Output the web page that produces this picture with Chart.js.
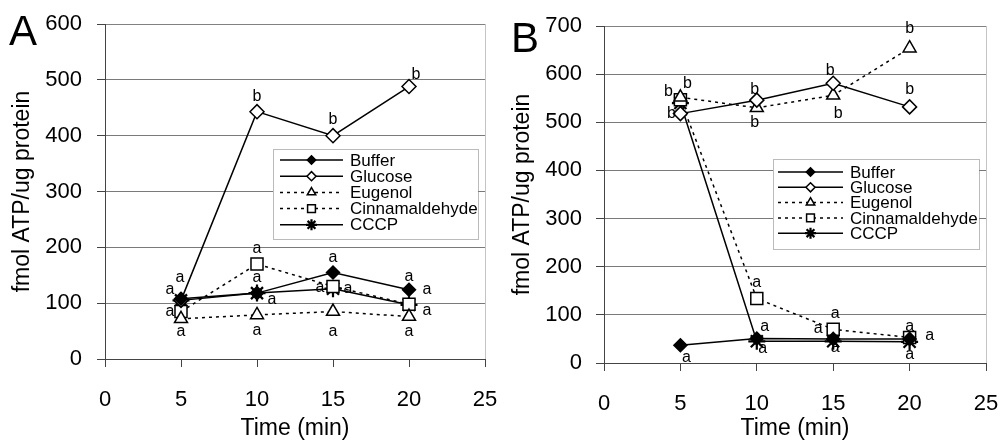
<!DOCTYPE html>
<html>
<head>
<meta charset="utf-8">
<script src="https://cdn.jsdelivr.net/npm/chart.js"></script>
<style>
  body { margin: 0; background: #fff; }
  #wrap { position: relative; width: 1002px; height: 446px; }
  canvas { position: absolute; top: 0; }
</style>
</head>
<body>
<div id="wrap">
  <canvas id="chartA" width="500" height="446" style="left:0px"></canvas>
  <canvas id="chartB" width="502" height="446" style="left:500px"></canvas>
</div>
<script>
"use strict"

// data
const times = [5, 10, 15, 20];
const seriesNames = ["Buffer", "Glucose", "Eugenol", "Cinnamaldehyde", "CCCP"];
const xTicks = [0, 5, 10, 15, 20, 25];

const bufferA = [108, 118, 155, 124];
const glucoseA = [105, 443, 400, 488];
const eugenolA = [72, 79, 85, 76];
const cinnamA = [85, 170, 130, 98];
const cccpA = [105, 118, 126, 97];

const bufferB = [37, 51, 50, 50];
const glucoseB = [518, 546, 581, 532];
const eugenolB = [552, 530, 556, 654];
const cinnamB = [547, 134, 70, 53];
const cccpB = [540, 45, 45, 44];

// significance letters: [series index, time index, letter]
const lettersA = [
  [0, 0, "a"], [0, 0, "a"], [3, 0, "a"], [2, 0, "a"],
  [3, 1, "a"], [4, 1, "a"], [4, 1, "a"], [1, 1, "b"], [2, 1, "a"],
  [0, 2, "a"], [3, 2, "a"], [4, 2, "a"], [1, 2, "b"], [2, 2, "a"],
  [0, 3, "a"], [0, 3, "a"], [3, 3, "a"], [1, 3, "b"], [2, 3, "a"]
];
const lettersB = [
  [3, 0, "b"], [2, 0, "b"], [1, 0, "b"], [0, 0, "a"],
  [1, 1, "b"], [2, 1, "b"], [3, 1, "a"], [0, 1, "a"], [4, 1, "a"],
  [1, 2, "b"], [2, 2, "b"], [3, 2, "a"], [3, 2, "a"], [4, 2, "a"],
  [2, 3, "b"], [1, 3, "b"], [3, 3, "a"], [3, 3, "a"], [4, 3, "a"]
];

// where each letter sits relative to its point (px)
const offsetsA = [
  [-11, -9], [-1, -21], [-11, 0], [0, 13],
  [0, -15], [0, -16], [15, 6], [0, -15], [0, 16],
  [0, -15], [-13, 1], [15, 0], [0, -16], [0, 20],
  [0, -13], [18, 0], [18, 6], [7, -12], [0, 15]
];
const offsetsB = [
  [-12, -8], [7, -14], [-9, 0], [6, 12],
  [-2, -11], [-2, 15], [0, -16], [8, -12], [6, 7],
  [-3, -13], [5, 18], [2, -16], [-15, -1], [2, 6],
  [0, -20], [0, -17], [0, -11], [20, -2], [0, 13]
];

const FONT = "'Liberation Sans', Arial, sans-serif";
Chart.defaults.font.family = FONT;
Chart.defaults.color = "#000";

const looks = [
  { pointStyle: "rectRot", radius: 6.5, fill: "#000", dash: [], bw: 1.5 },
  { pointStyle: "rectRot", radius: 7, fill: "#fff", dash: [], bw: 1.5 },
  { pointStyle: "triangle", radius: 7.5, fill: "#fff", dash: [3, 4], bw: 1.5 },
  { pointStyle: "rect", radius: 8.5, fill: "#fff", dash: [3, 4], bw: 1.5 },
  { pointStyle: "star", radius: 8.5, fill: "#000", dash: [], bw: 2.2 }
];

function makeDatasets(valueLists) {
  return valueLists.map((vals, i) => ({
    label: seriesNames[i],
    data: vals.map((v, j) => ({ x: times[j], y: v })),
    borderColor: "#000",
    borderWidth: 1.5,
    borderDash: looks[i].dash,
    pointStyle: looks[i].pointStyle,
    pointRadius: looks[i].radius,
    pointBackgroundColor: looks[i].fill,
    pointBorderColor: "#000",
    pointBorderWidth: looks[i].bw,
    fill: false,
    tension: 0
  }));
}

// box around the plot area (dotted, grey) - left/bottom axis lines go on top
const frame = {
  id: "frame",
  beforeDatasetsDraw(chart) {
    const a = chart.chartArea;
    const ctx = chart.ctx;
    ctx.save();
    ctx.strokeStyle = "#888";
    ctx.lineWidth = 1;
    ctx.setLineDash([1, 1]);
    ctx.strokeRect(a.left + 0.5, a.top + 0.5, a.right - a.left, a.bottom - a.top);
    ctx.restore();
  }
};

function letterPlugin(marks, offsets) {
  return {
    id: "letters",
    afterDatasetsDraw(chart) {
      const ctx = chart.ctx;
      ctx.save();
      ctx.font = "16px " + FONT;
      ctx.fillStyle = "#000";
      ctx.textAlign = "center";
      ctx.textBaseline = "middle";
      marks.forEach((m, i) => {
        const pt = chart.getDatasetMeta(m[0]).data[m[1]];
        ctx.fillText(m[2], pt.x + offsets[i][0], pt.y + offsets[i][1]);
      });
      ctx.restore();
    }
  };
}

function drawMarker(ctx, look, x, y, r) {
  ctx.fillStyle = look.fill;
  ctx.strokeStyle = "#000";
  ctx.lineWidth = look.bw;
  ctx.setLineDash([]);
  Chart.helpers.drawPoint(ctx, { pointStyle: look.pointStyle, radius: r, borderWidth: look.bw, rotation: 0 }, x, y);
}

// legend: line sample with marker in the middle, in a dotted box
function legendPlugin(box) {
  return {
    id: "boxLegend",
    afterDraw(chart) {
      const ctx = chart.ctx;
      ctx.save();
      ctx.fillStyle = "#fff";
      ctx.fillRect(box.x, box.y, box.w, box.h);
      ctx.strokeStyle = "#777";
      ctx.lineWidth = 1;
      ctx.setLineDash([1, 1]);
      ctx.strokeRect(box.x + 0.5, box.y + 0.5, box.w, box.h);
      chart.data.datasets.forEach((ds, i) => {
        const y = box.y + box.first + i * box.step;
        ctx.strokeStyle = "#000";
        ctx.lineWidth = 1.5;
        ctx.setLineDash(looks[i].dash);
        ctx.beginPath();
        ctx.moveTo(box.lineX0, y);
        ctx.lineTo(box.lineX1, y);
        ctx.stroke();
        drawMarker(ctx, looks[i], (box.lineX0 + box.lineX1) / 2, y, looks[i].radius * 0.65);
        ctx.fillStyle = "#000";
        ctx.font = "17px " + FONT;
        ctx.textAlign = "left";
        ctx.textBaseline = "middle";
        ctx.fillText(ds.label, box.textX, y + 1);
      });
      ctx.restore();
    }
  };
}

function panelLetter(text, x, y) {
  return {
    id: "panelLetter",
    afterDraw(chart) {
      const ctx = chart.ctx;
      ctx.save();
      ctx.font = "42px " + FONT;
      ctx.fillStyle = "#000";
      ctx.textAlign = "left";
      ctx.textBaseline = "alphabetic";
      ctx.fillText(text, x, y);
      ctx.restore();
    }
  };
}

function makeChart(id, valueLists, yMax, pad, yWidth, xHeight, yPad, plugins) {
  const yTicks = [];
  for (let v = 0; v <= yMax; v += 100) yTicks.push(v);
  return new Chart(document.getElementById(id), {
    type: "line",
    data: { datasets: makeDatasets(valueLists) },
    options: {
      responsive: false,
      animation: false,
      devicePixelRatio: 1,
      layout: { padding: pad },
      plugins: { legend: { display: false }, tooltip: { enabled: false } },
      scales: {
        x: {
          type: "linear",
          min: 0,
          max: 25,
          afterBuildTicks: (s) => { s.ticks = xTicks.map(v => ({ value: v })); },
          afterFit: (s) => { s.height = xHeight; s.paddingLeft = 0; s.paddingRight = 0; },
          grid: { drawOnChartArea: false, drawTicks: true, tickLength: 8, tickColor: "#444" },
          border: { color: "#000", width: 1 },
          ticks: { font: { size: 22 }, padding: 20, color: "#000" },
          title: { display: true, text: "Time (min)", font: { size: 23 }, padding: { top: 0, bottom: 4 }, color: "#000" }
        },
        y: {
          min: 0,
          max: yMax,
          afterBuildTicks: (s) => { s.ticks = yTicks.map(v => ({ value: v })); },
          afterFit: (s) => { s.width = yWidth; s.paddingTop = 0; s.paddingBottom = 0; },
          grid: { color: "#7a7a7a", lineWidth: 1, tickLength: 8, tickColor: "#444" },
          border: { color: "#000", width: 1 },
          ticks: { font: { size: 22 }, padding: yPad, color: "#000" },
          title: { display: true, text: "fmol ATP/ug protein", font: { size: 23 }, padding: { top: 9, bottom: 0 }, color: "#000" }
        }
      }
    },
    plugins: plugins
  });
}

makeChart("chartA", [bufferA, glucoseA, eugenolA, cinnamA, cccpA], 600,
  { top: 24, right: 15, left: 0, bottom: 0 }, 105, 87, 15,
  [frame, letterPlugin(lettersA, offsetsA),
   legendPlugin({ x: 273, y: 149, w: 205, h: 90, first: 11, step: 16.2, lineX0: 280, lineX1: 343, textX: 350 }),
   panelLetter("A", 9, 45)]);

makeChart("chartB", [bufferB, glucoseB, eugenolB, cinnamB, cccpB], 700,
  { top: 26, right: 16, left: 0, bottom: 0 }, 104, 83, 14,
  [frame, letterPlugin(lettersB, offsetsB),
   legendPlugin({ x: 273, y: 159, w: 206, h: 90, first: 13, step: 15.3, lineX0: 278, lineX1: 343, textX: 350 }),
   panelLetter("B", 11, 52)]);
</script>
</body>
</html>
